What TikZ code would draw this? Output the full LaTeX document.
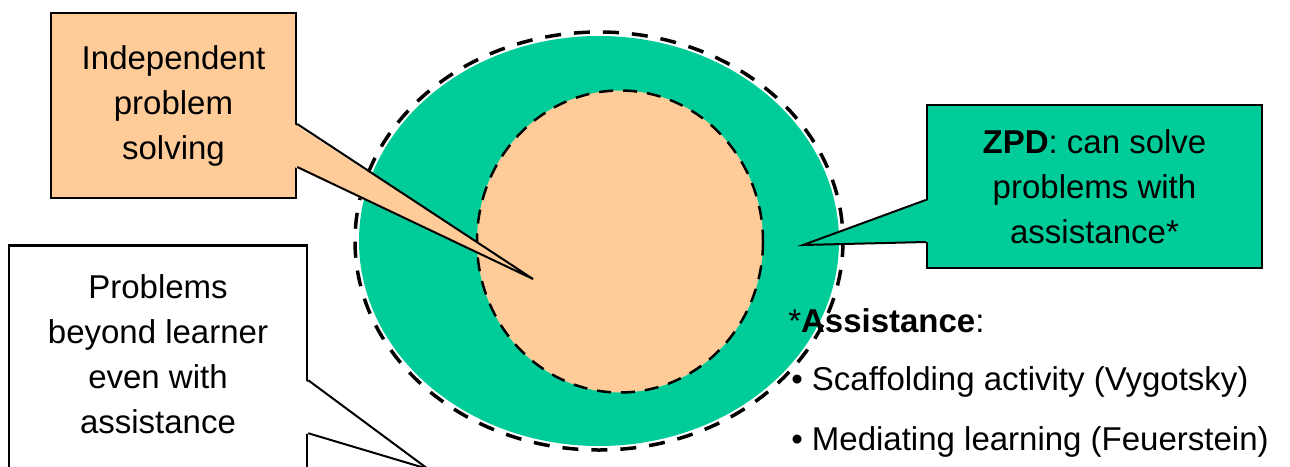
\documentclass[tikz,border=0pt]{standalone}
\usepackage{fontspec}
\setmainfont{Liberation Sans}
\definecolor{zpd}{HTML}{00CC99}
\definecolor{indep}{HTML}{FFCC99}
\tikzset{px/.style={x=1pt,y=-1pt,line width=2.5pt,font=\fontsize{33}{45}\selectfont},
  callbox/.style={draw,line width=2.5pt,inner sep=0pt,align=center},
  ptr/.style={line width=2pt,line join=miter},
  outerdash/.style={line width=3.5pt,dash pattern=on 16pt off 13pt},
  innerdash/.style={line width=2.5pt,dash pattern=on 14pt off 10pt}}

\begin{document}
\begin{tikzpicture}[px]
  \useasboundingbox (0,0) rectangle (1290,466);
  \clip (0,0) rectangle (1290,466);
  \fill[zpd] (599,241) ellipse [x radius=240,y radius=205];
  \draw[outerdash] (599,241) ellipse [x radius=244,y radius=209];
  \filldraw[fill=indep,innerdash] (620,241.5) ellipse [x radius=143,y radius=151];
  \node[callbox,fill=indep,minimum width=245,minimum height=185] (indbox) at (173.5,105.5) {Independent\\problem\\solving};
  \coordinate (indtip) at (533,279);
  \fill[indep] ([xshift=-3pt,yshift=-18.5pt]indbox.east) -- (indtip) -- ([xshift=-3pt,yshift=-61.5pt]indbox.east) -- cycle;
  \draw[ptr] ([yshift=-18.5pt]indbox.east) -- (indtip) -- ([yshift=-61.5pt]indbox.east);
  \node[callbox,fill=zpd,minimum width=335,minimum height=163] (zpdbox) at (1094.5,186.5) {\textbf{ZPD}: can solve\\problems with\\assistance*};
  \coordinate (zpdtip) at (803,245);
  \fill[zpd] ([xshift=3pt,yshift=-13.5pt]zpdbox.west) -- (zpdtip) -- ([xshift=3pt,yshift=-55.5pt]zpdbox.west) -- cycle;
  \draw[ptr] ([yshift=-13.5pt]zpdbox.west) -- (zpdtip) -- ([yshift=-55.5pt]zpdbox.west);
  \node[callbox,fill=white,minimum width=298,minimum height=260,anchor=north] (beyondbox) at (158,244) {};
  \node[align=center,anchor=north,inner sep=0pt] (beyond) at (158,273) {Problems\\beyond learner\\even with\\assistance};
  \coordinate (beyondtip) at (428,469);
  \fill[white] ([xshift=-3pt,yshift=-5pt]beyondbox.east) -- (beyondtip) -- ([xshift=-3pt,yshift=-58pt]beyondbox.east) -- cycle;
  \draw[ptr] ([yshift=-5pt]beyondbox.east) -- (beyondtip) -- ([yshift=-58pt]beyondbox.east);
  \node[anchor=base west,inner sep=0pt] (assist) at (787,332) {*\textbf{Assistance}:};
  \foreach \y/\t [count=\i] in {390/Scaffolding activity (Vygotsky),450/Mediating learning (Feuerstein)}
    \node[anchor=base west,inner sep=0pt] (item\i) at (790,\y) {\textbullet\ \t};
\end{tikzpicture}
\end{document}
